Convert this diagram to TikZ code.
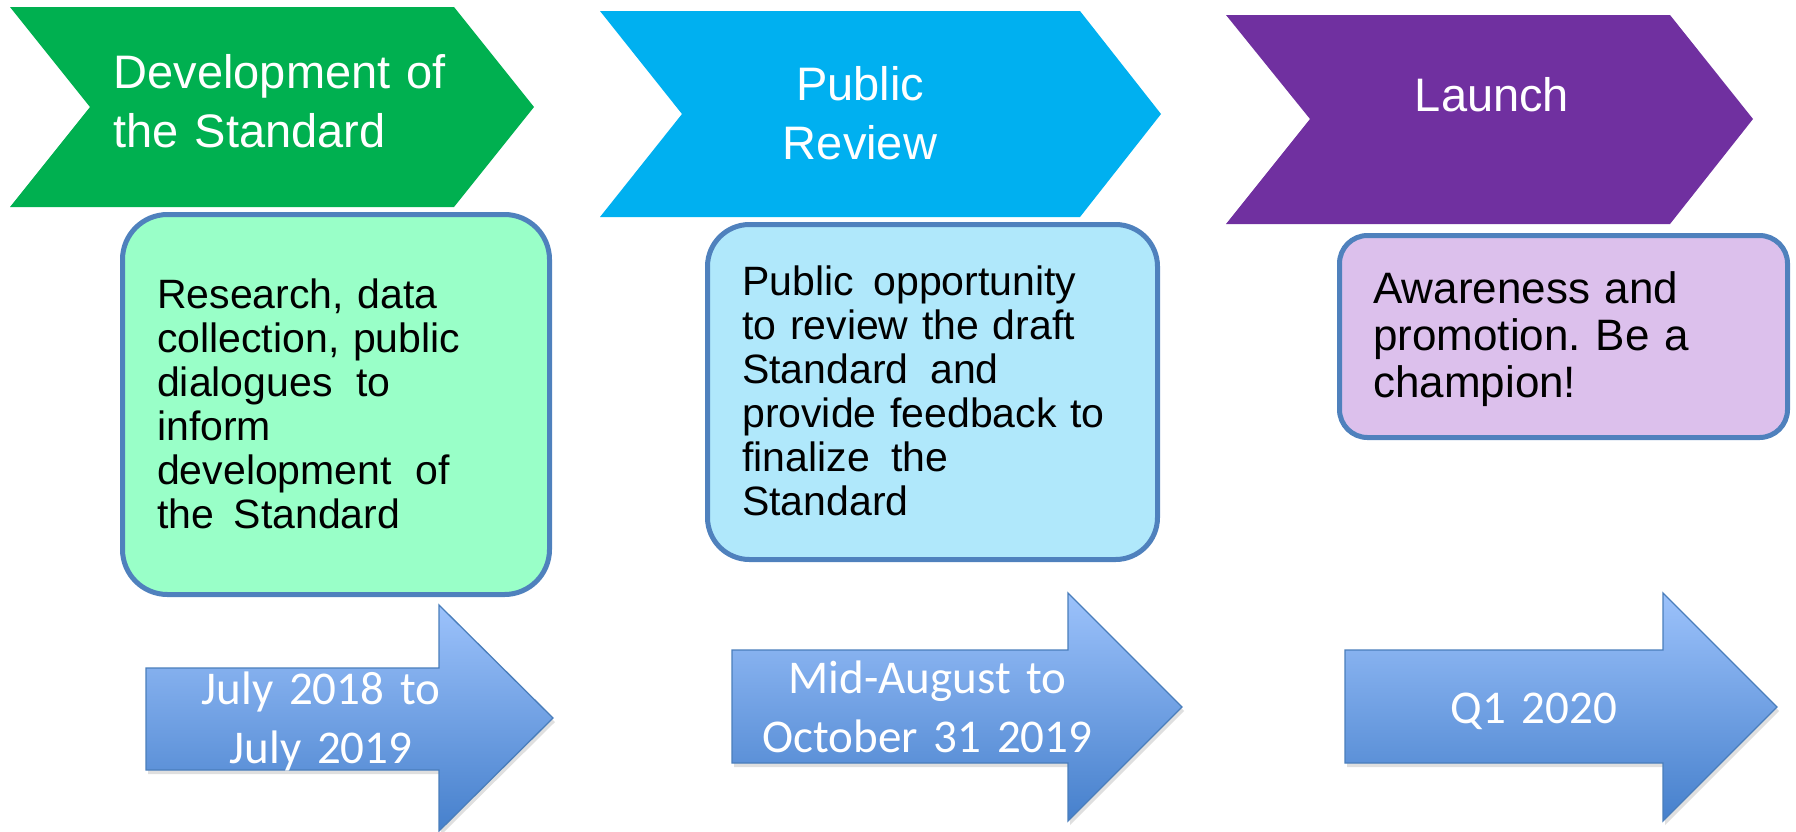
\documentclass[tikz,border=0pt]{standalone}
\usepackage{fontspec}
\setmainfont{Liberation Sans}
\newfontfamily\headfont{Liberation Sans}
\newfontfamily\datefont[WordSpace=0.9]{Carlito}
\usetikzlibrary{shadows}
\frenchspacing
\definecolor{chgreen}{HTML}{00B050}
\definecolor{chblue}{HTML}{00B0F0}
\definecolor{chpurple}{HTML}{7030A0}
\definecolor{bxgreen}{HTML}{99FFC8}
\definecolor{bxblue}{HTML}{B0E8FB}
\definecolor{bxpurple}{HTML}{DCC0EC}
\definecolor{bxedge}{HTML}{4F81BD}
\definecolor{arrtop}{HTML}{9CC2FB}
\definecolor{arrbot}{HTML}{4680CC}
\definecolor{arredge}{HTML}{4A7EBB}
\begin{document}
\frenchspacing
\begin{tikzpicture}[x=1pt,y=-1pt,
  box/.style={draw=bxedge,line width=5pt},
  datearrow/.style={draw=arredge,line width=1.3pt,top color=arrtop,bottom color=arrbot,
    drop shadow={shadow xshift=2pt,shadow yshift=-4pt,opacity=0.25}},
  headtxt/.style={text=white,inner sep=0pt,font=\headfont\fontsize{47pt}{59pt}\selectfont},
  boxtxt/.style={text=black,inner sep=0pt,align=left,anchor=base west,text width=430pt,font=\fontsize{41pt}{44pt}\selectfont\frenchspacing},
  datetxt/.style={text=white,inner sep=0pt,align=center,anchor=base,text width=440pt,font=\datefont\fontsize{47pt}{59pt}\selectfont}
]
\useasboundingbox (0,0) rectangle (1796,831);
% chevrons
\fill[chgreen] (10,7) -- (454,7) -- (534,107) -- (454,207) -- (10,207) -- (90,107) -- cycle;
\fill[chblue] (600,11) -- (1080,11) -- (1161,114) -- (1080,217) -- (600,217) -- (682,114) -- cycle;
\fill[chpurple] (1226,15) -- (1670,15) -- (1753,119) -- (1670,224) -- (1226,224) -- (1310,119) -- cycle;
\node[headtxt,align=left,anchor=base west,text width=400pt] (h1) at (113.5,88) {Development of\\the Standard};
\node[headtxt,align=center,anchor=base,text width=300pt] (h2) at (860,100) {Public\\Review};
\node[headtxt,anchor=base] (h3) at (1492,111) {Launch};
% rounded boxes
\draw[box,fill=bxgreen,rounded corners=45pt] (122.5,214.5) rectangle (549.5,594.5);
\draw[box,fill=bxblue,rounded corners=42pt] (707.5,224.5) rectangle (1157.5,559.5);
\draw[box,fill=bxpurple,rounded corners=28pt] (1339.5,235.5) rectangle (1787.5,437.5);
\node[boxtxt] (t1) at (157,308) {Research, data\\collection, public\\dialogues\hspace{10pt} to\\inform\\development\hspace{10pt} of\\the\hspace{6pt} Standard};
\node[boxtxt,font=\fontsize{41pt}{44pt}\selectfont] (t2) at (742,295) {Public\hspace{6pt} opportunity\\to review the draft\\Standard\hspace{8pt} and\\provide feedback to\\finalize\hspace{8pt} the\\Standard};
\node[boxtxt,font=\fontsize{44pt}{47pt}\selectfont] (t3) at (1373,303) {Awareness and\\promotion. Be a\\champion!};
% date arrows
\draw[datearrow] (146,668) -- (439,668) -- (439,605) -- (553,718) -- (439,831) -- (439,770) -- (146,770) -- cycle;
\draw[datearrow] (732,650) -- (1068,650) -- (1068,593) -- (1182,707) -- (1068,821) -- (1068,763) -- (732,763) -- cycle;
\draw[datearrow] (1345,650) -- (1663,650) -- (1663,593) -- (1777,707) -- (1663,821) -- (1663,763) -- (1345,763) -- cycle;
\node[datetxt] (d1) at (321,704) {July 2018 to\\July 2019};
\node[datetxt] (d2) at (927.5,693) {Mid-August to\\October 31 2019};
\node[datetxt] (d3) at (1534,723) {Q1 2020};
\end{tikzpicture}
\end{document}
